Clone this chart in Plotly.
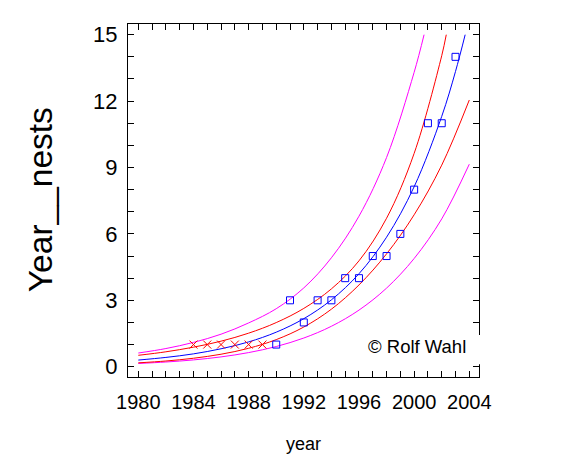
import plotly.graph_objects as go

# ---- data ----
cross_years = [1984, 1985, 1986, 1987, 1988, 1989]
cross_nests = [1, 1, 1, 1, 1, 1]

square_years = [1990, 1991, 1992, 1993, 1994, 1995, 1996, 1997, 1998, 1999, 2000, 2001, 2002, 2003]
square_nests = [1, 3, 2, 3, 3, 4, 4, 5, 5, 6, 8, 11, 11, 14]

fit_years = [1980, 1982, 1984, 1986, 1988, 1990, 1992, 1994, 1996, 1998, 2000, 2002, 2003, 2003.7]
fit_vals = [0.30, 0.42, 0.58, 0.81, 1.12, 1.56, 2.17, 3.02, 4.20, 5.85, 8.13, 11.31, 13.34, 15.0]

conf_hi_years = [1980, 1982, 1984, 1986, 1988, 1990, 1992, 1994, 1996, 1998, 2000, 2002, 2002.33]
conf_hi_vals = [0.515, 0.673, 0.883, 1.154, 1.515, 1.993, 2.634, 3.515, 4.783, 6.707, 9.638, 14.05, 15.0]

conf_lo_years = [1980, 1982, 1984, 1986, 1988, 1990, 1992, 1994, 1996, 1998, 2000, 2002, 2004]
conf_lo_vals = [0.175, 0.258, 0.382, 0.564, 0.832, 1.224, 1.793, 2.598, 3.693, 5.098, 6.863, 9.106, 12.05]

pred_hi_years = [1980, 1982, 1984, 1986, 1988, 1990, 1992, 1994, 1996, 1998, 2000, 2000.72]
pred_hi_vals = [0.618, 0.821, 1.098, 1.469, 1.978, 2.62, 3.56, 4.92, 6.80, 9.45, 13.30, 15.0]

pred_lo_years = [1980, 1982, 1984, 1986, 1988, 1990, 1992, 1994, 1996, 1998, 2000, 2002, 2004]
pred_lo_vals = [0.146, 0.212, 0.307, 0.443, 0.638, 0.912, 1.296, 1.827, 2.557, 3.550, 4.888, 6.677, 9.15]

x_tick_vals = [1980, 1984, 1988, 1992, 1996, 2000, 2004]
x_tick_text = ["1980", "1984", "1988", "1992", "1996", "2000", "2004"]
y_tick_vals = [0, 3, 6, 9, 12, 15]
y_tick_text = ["0", "3", "6", "9", "12", "15"]

FONT = "Liberation Sans, Arial, sans-serif"

fig = go.Figure()

def curve(xs, ys, color):
    fig.add_trace(go.Scatter(x=xs, y=ys, mode="lines",
                             line=dict(color=color, width=1, shape="spline", smoothing=1.0),
                             hoverinfo="skip", showlegend=False))

curve(pred_hi_years, pred_hi_vals, "#ff00ff")
curve(pred_lo_years, pred_lo_vals, "#ff00ff")
curve(conf_hi_years, conf_hi_vals, "#ff0000")
curve(conf_lo_years, conf_lo_vals, "#ff0000")
curve(fit_years, fit_vals, "#0000ff")

fig.add_trace(go.Scatter(x=cross_years, y=cross_nests, mode="markers",
                         marker=dict(symbol="x-thin-open", size=8, color="#ff0000",
                                     line=dict(color="#ff0000", width=1)),
                         showlegend=False))
fig.add_trace(go.Scatter(x=square_years, y=square_nests, mode="markers",
                         marker=dict(symbol="square-open", size=7, color="#0000ff",
                                     line=dict(color="#0000ff", width=1)),
                         showlegend=False))

axis_common = dict(showline=True, linecolor="black", linewidth=1, mirror="allticks",
                   ticks="inside", ticklen=6, tickwidth=1, tickcolor="black",
                   showgrid=False, zeroline=False, tickmode="array")

fig.update_xaxes(range=[1979.253, 2004.703], tickvals=x_tick_vals, ticktext=x_tick_text,
                 tickfont=dict(family=FONT, size=20, color="black"),
                 minor=dict(ticks="inside", ticklen=6, tickcolor="black", dtick=1, tick0=1980, showgrid=False),
                 ticklabelstandoff=7, **axis_common)
fig.update_yaxes(range=[-0.465, 15.483], tickvals=y_tick_vals, ticktext=y_tick_text,
                 tickfont=dict(family=FONT, size=22, color="black"),
                 minor=dict(ticks="inside", ticklen=6, tickcolor="black", dtick=1, tick0=0, showgrid=False),
                 ticklabelstandoff=5, **axis_common)

# white box behind the copyright text (covers right border segment)
fig.add_shape(type="rect", xref="paper", yref="paper", x0=0.67, x1=1.012, y0=0.036, y1=0.119,
              fillcolor="white", line=dict(width=0), layer="above")

fig.add_annotation(text="© Rolf Wahl", xref="paper", yref="paper", x=0.823, y=0.087,
                   showarrow=False, xanchor="center", yanchor="middle",
                   font=dict(family=FONT, size=18.5, color="black"))
fig.add_annotation(text="Year__nests", xref="paper", yref="paper", x=-0.2507, y=0.501,
                   showarrow=False, textangle=-90, xanchor="center", yanchor="middle",
                   font=dict(family=FONT, size=33.5, color="black"))
fig.add_annotation(text="year", xref="paper", yref="paper", x=0.5, y=-0.19,
                   showarrow=False, xanchor="center", yanchor="middle",
                   font=dict(family=FONT, size=18, color="black"))

# page body has an 8px default margin, so the plot area is shifted back by 8px
fig.update_layout(width=585, height=468, margin=dict(l=120, r=114, t=16, b=99),
                  paper_bgcolor="white", plot_bgcolor="white", showlegend=False,
                  font=dict(family=FONT, color="black"))

fig.write_html("out.html")
